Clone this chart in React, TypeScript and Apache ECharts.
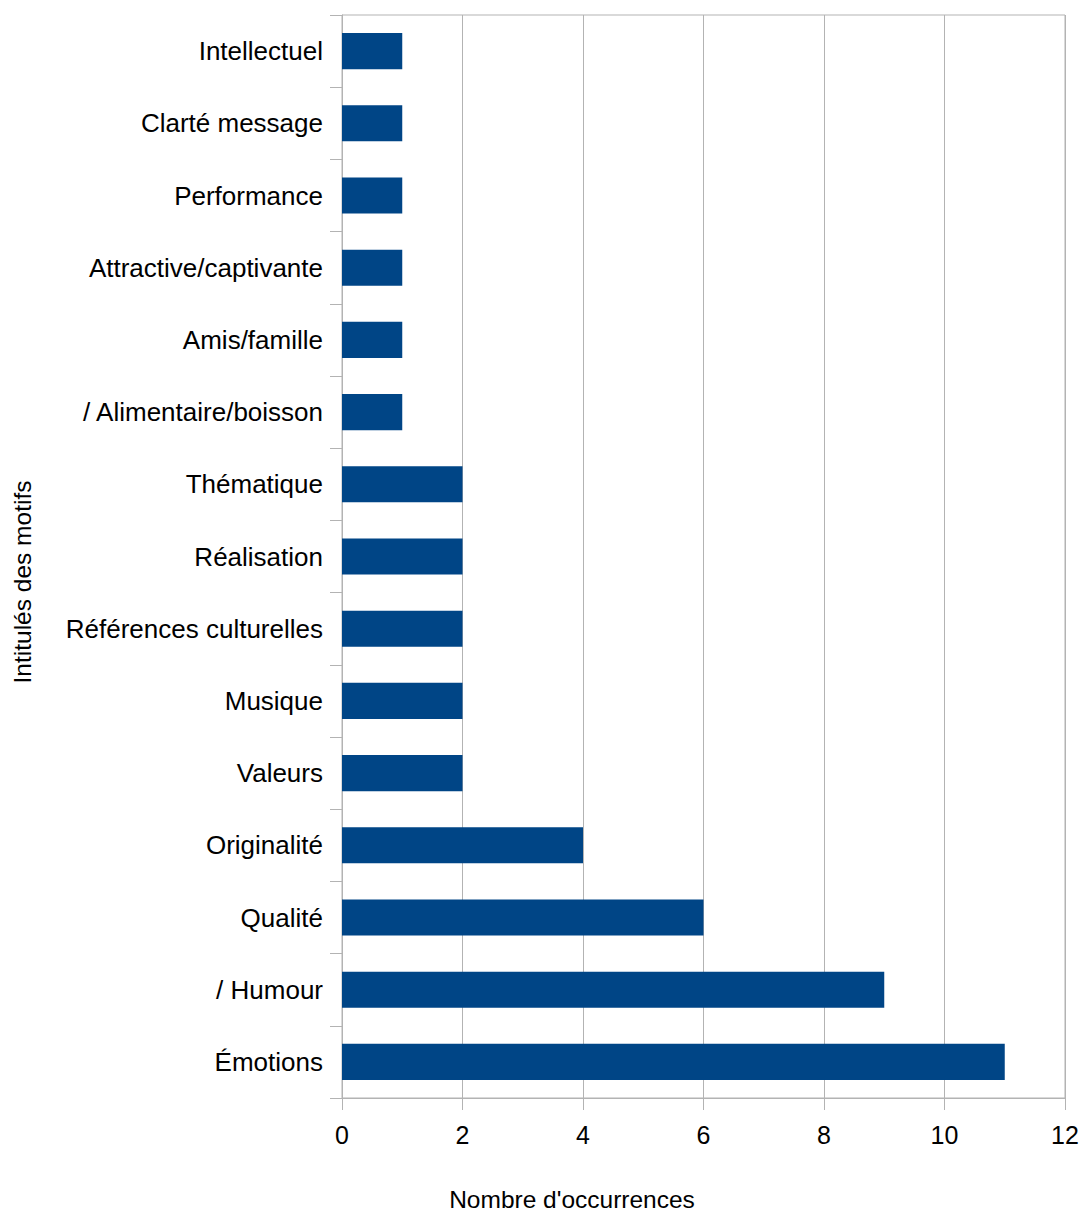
import React, { useEffect, useRef } from "react";
import * as echarts from "echarts";

const categories = [
  "Émotions",
  "/ Humour",
  "Qualité",
  "Originalité",
  "Valeurs",
  "Musique",
  "Références culturelles",
  "Réalisation",
  "Thématique",
  "/ Alimentaire/boisson",
  "Amis/famille",
  "Attractive/captivante",
  "Performance",
  "Clarté message",
  "Intellectuel",
];
const values = [11, 9, 6, 4, 2, 2, 2, 2, 2, 1, 1, 1, 1, 1, 1];
const xAxisTitle = "Nombre d'occurrences";
const yAxisTitle = "Intitulés des motifs";

const FONT = "'Liberation Sans', Arial, sans-serif";
const GRID_COLOR = "#b3b3b3";

export default function App() {
  const ref = useRef<HTMLDivElement>(null);
  useEffect(() => {
    if (!ref.current) return;
    const chart = echarts.init(ref.current, null, { renderer: "svg" });
    chart.setOption({
      animation: false,
      backgroundColor: "#ffffff",
      grid: {
        left: 342,
        right: 19,
        top: 15,
        bottom: 116,
        show: true,
        borderColor: GRID_COLOR,
        borderWidth: 1,
        backgroundColor: "transparent",
      },
      xAxis: {
        type: "value",
        min: 0,
        max: 12,
        interval: 2,
        axisLine: { show: true, lineStyle: { color: GRID_COLOR, width: 1 } },
        axisTick: { show: true, length: 12, lineStyle: { color: GRID_COLOR } },
        splitLine: { show: true, lineStyle: { color: GRID_COLOR, width: 1 } },
        axisLabel: {
          fontFamily: FONT,
          fontSize: 25,
          color: "#000000",
          margin: 24,
        },
      },
      yAxis: {
        type: "category",
        data: categories,
        axisLine: { show: true, lineStyle: { color: GRID_COLOR, width: 1 } },
        axisTick: { show: true, length: 12, alignWithLabel: false, lineStyle: { color: GRID_COLOR } },
        splitLine: { show: false },
        axisLabel: {
          fontFamily: FONT,
          fontSize: 26,
          color: "#000000",
          margin: 19,
          interval: 0,
        },
      },
      series: [
        {
          type: "bar",
          data: values,
          barWidth: "50%",
          itemStyle: { color: "#004586" },
        },
      ],
      graphic: [
        {
          type: "text",
          x: 572,
          y: 1199,
          style: {
            text: xAxisTitle,
            fontFamily: FONT,
            fontSize: 24.5,
            fill: "#000000",
            align: "center",
            verticalAlign: "middle",
          },
        },
        {
          type: "text",
          x: 22,
          y: 582,
          rotation: Math.PI / 2,
          style: {
            text: yAxisTitle,
            fontFamily: FONT,
            fontSize: 24.5,
            fill: "#000000",
            align: "center",
            verticalAlign: "middle",
          },
        },
      ],
    });
    return () => chart.dispose();
  }, []);
  return (
    <div
      ref={ref}
      style={{ position: "absolute", left: 0, top: 0, width: 1084, height: 1214 }}
    />
  );
}
